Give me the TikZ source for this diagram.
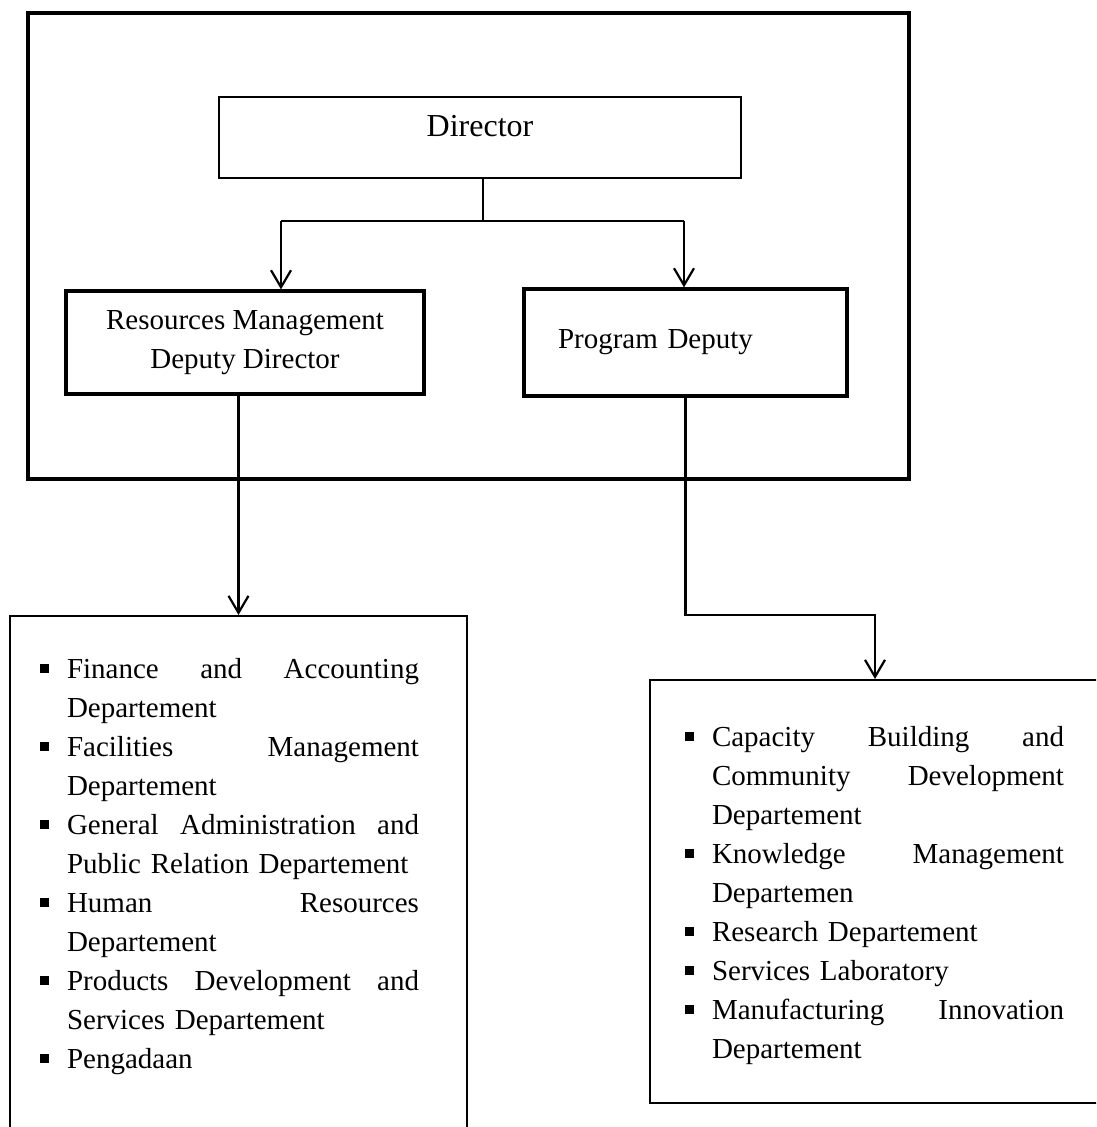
\documentclass[tikz,border=0pt]{standalone}
\usepackage{fontspec}
\setmainfont{Liberation Serif}
\usetikzlibrary{arrows.meta}

% bullet lists in the department boxes
\newcommand{\deptbullet}{\makebox[13.5pt][l]{\rule[2.5pt]{4.5pt}{4.5pt}}}
\newcommand{\deptitem}[1]{\par\noindent\hangindent=13.5pt\hangafter=1\deptbullet#1}
\newcommand{\deptmargins}[2]{\leftskip=#1\rightskip=#2\parfillskip=0pt plus 1fil}

\begin{document}
\begin{tikzpicture}[x=0.5pt, y=-0.5pt, >={Straight Barb[length=8.5pt,width=10pt]},
    orgbox/.style={draw, line width=1.6pt, inner sep=0pt,
                   font=\fontsize{14.5pt}{19.5pt}\selectfont},
    deptbox/.style={draw, line width=1.2pt, inner sep=0pt, anchor=north,
                    font=\fontsize{14.5pt}{19.5pt}\selectfont},
    link/.style={line width=1.1pt}]
  \path[use as bounding box] (0,0) rectangle (1096,1127);
  \clip (0,0) rectangle (1096,1127);

  % Management frame
  \draw[line width=1.6pt] (28,13) rectangle (909,479);

  % Director and deputies
  \node[orgbox, line width=0.8pt, minimum width=261pt, text height=20pt,
        text depth=20.5pt, font=\fontsize{16pt}{19pt}\selectfont]
        (director) at (480,137.5) {Director};
  \node[orgbox, minimum width=179pt, minimum height=51.5pt, align=center]
        (rmdeputy) at (245,342.5) {Resources Management\\Deputy Director};
  \node[orgbox, minimum width=161.5pt, minimum height=53.5pt,
        text width=161.5pt, align=left]
        (pdeputy) at (685.5,342.5) {\hspace*{17pt}Program Deputy};

  % Departments
  \node[deptbox, text width=228.5pt, text height=11.5pt, text depth=251pt]
        (resdept) at (238.5,615) {\deptmargins{15pt}{24pt}%
    \deptitem{Finance\hfill and\hfill Accounting\break Departement}
    \deptitem{Facilities\hfill Management\break Departement}
    \deptitem{General\hfill Administration\hfill and\break Public Relation Departement}
    \deptitem{Human\hfill Resources\break Departement}
    \deptitem{Products\hfill Development\hfill and\break Services Departement}
    \deptitem{Pengadaan}\par};
  \node[deptbox, text width=225pt, text height=13.5pt, text depth=198pt]
        (progdept) at (875,679) {\deptmargins{17.5pt}{18pt}%
    \deptitem{Capacity\hfill Building\hfill and\break Community\hfill Development\break Departement}
    \deptitem{Knowledge\hfill Management\break Departemen}
    \deptitem{Research Departement}
    \deptitem{Services Laboratory}
    \deptitem{Manufacturing\hfill Innovation\break Departement}\par};

  % Connectors
  \coordinate (fork) at (483,221);
  \coordinate (forkleft) at (281,221);
  \coordinate (forkright) at (684,221);
  \coordinate (progbend) at (685.5,615);
  \draw[link] (director.south -| fork) -- (fork);
  \draw[link] (forkleft) -- (forkright);
  \draw[link, ->] (forkleft) -- (forkleft |- rmdeputy.north);
  \draw[link, ->] (forkright) -- (forkright |- pdeputy.north);
  \draw[link, ->] (rmdeputy.south -| resdept.north) -- (resdept.north);
  \draw[link, ->] (pdeputy.south) -- (progbend) -| (progdept.north);
\end{tikzpicture}
\end{document}
